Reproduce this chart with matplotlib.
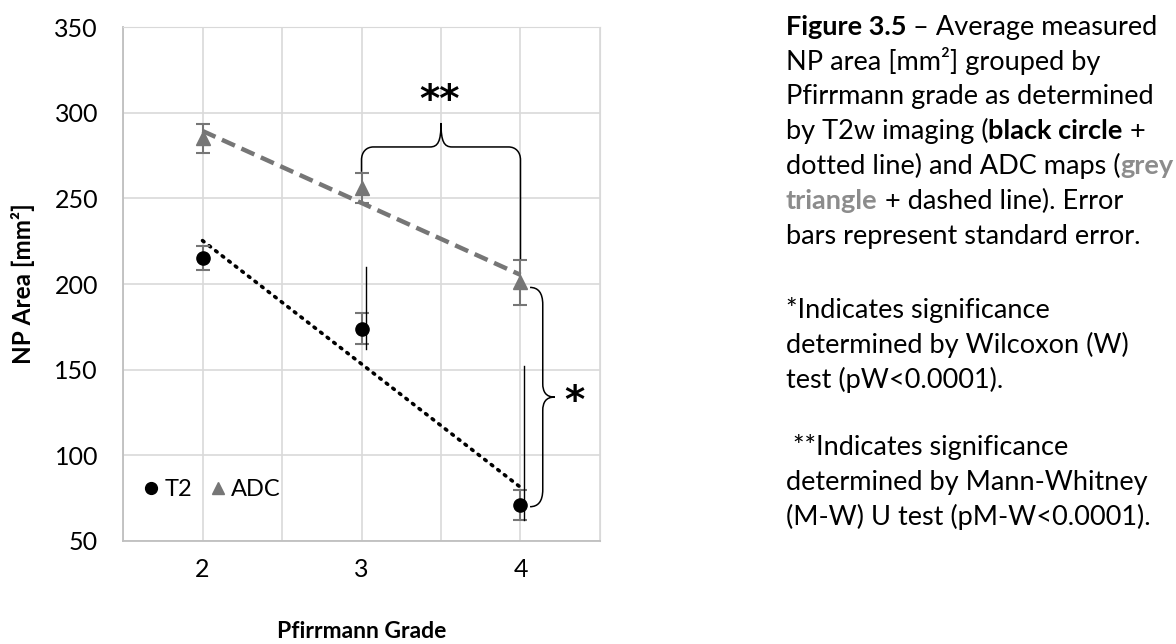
import numpy as np
import matplotlib.pyplot as plt
from matplotlib.path import Path
from matplotlib.patches import PathPatch
from matplotlib.lines import Line2D

plt.rcParams['font.family'] = ['Lato', 'DejaVu Sans']

# Pfirrmann grade vs mean NP area, with standard error
grades = [2, 3, 4]
t2_area = [215, 174, 71]
t2_err = [7, 9, 9]
adc_area = [285, 256, 201]
adc_err = [8.5, 9, 13]

GREY = '#767676'

fig = plt.figure(figsize=(11.76, 6.44), dpi=100)
ax = fig.add_axes([0.1046, 0.160, 0.4056, 0.798])

# grid every 0.5 on x (labels only on whole grades), every 50 on y
ax.set_xlim(1.5, 4.5)
ax.set_ylim(50, 350)
ax.set_xticks(grades)
ax.set_xticks([1.5, 2.5, 3.5, 4.5], minor=True)
ax.set_yticks(np.arange(50, 351, 50))
ax.grid(True, which='both', color='#d9d9d9', linewidth=1.2, zorder=0)
ax.tick_params(which='both', length=0, labelsize=18)
ax.tick_params(axis='x', pad=12)
ax.tick_params(axis='y', pad=18)
for s in ['top', 'right']:
    ax.spines[s].set_color('#d9d9d9')
for s in ['left', 'bottom']:
    ax.spines[s].set_color('#bfbfbf')
    ax.spines[s].set_linewidth(1.3)

# linear trendlines
xs = np.array([2, 4])
k, b = np.polyfit(grades, t2_area, 1)
ax.plot(xs, k * xs + b, color='black', linewidth=2.6,
        linestyle=(0, (0.5, 1.8)), dash_capstyle='round', zorder=3)
k, b = np.polyfit(grades, adc_area, 1)
ax.plot(xs, k * xs + b, color=GREY, linewidth=3.2,
        linestyle=(0, (3.2, 1.6)), zorder=3)

# points with error bars
ax.errorbar(grades, t2_area, yerr=t2_err, fmt='o', color='black', ms=9.5,
            ecolor=GREY, elinewidth=1.5, capsize=5, capthick=1.5, zorder=4)
ax.errorbar(grades, adc_area, yerr=adc_err, fmt='^', color=GREY, ms=10,
            ecolor=GREY, elinewidth=1.5, capsize=5, capthick=1.5, zorder=4)

# thin marker lines
ax.plot([3.03, 3.03], [162, 210], color='black', linewidth=1.0, zorder=4)
ax.plot([4.02, 4.02], [62, 152], color='black', linewidth=1.0, zorder=4)

# brace over grades 3-4 (ADC)
M, L, C = Path.MOVETO, Path.LINETO, Path.CURVE4
top = [
    ((3.0, 265.5), M), ((3.0, 272.4), L),
    ((3.0, 277), C), ((3.03, 280), C), ((3.075, 280), C),
    ((3.43, 280), L),
    ((3.48, 280), C), ((3.5, 283), C), ((3.5, 294), C),
    ((3.5, 283), C), ((3.52, 280), C), ((3.57, 280), C),
    ((3.925, 280), L),
    ((3.97, 280), C), ((4.0, 277), C), ((4.0, 272.4), C),
    ((4.0, 214.5), L),
]
verts, codes = zip(*top)
ax.add_patch(PathPatch(Path(verts, codes), fill=False, color='black',
                       linewidth=1.1, zorder=5))
ax.text(3.49, 307, '**', fontsize=28, ha='center', va='center',
        family='DejaVu Sans', fontweight='bold')

# brace between T2 and ADC at grade 4
side = [
    ((4.06, 198), M),
    ((4.11, 198), C), ((4.14, 195), C), ((4.14, 188), C),
    ((4.14, 142), L),
    ((4.14, 137), C), ((4.16, 134), C), ((4.215, 134), C),
    ((4.16, 134), C), ((4.14, 131), C), ((4.14, 126), C),
    ((4.14, 80), L),
    ((4.14, 73), C), ((4.11, 70), C), ((4.06, 70), C),
]
verts, codes = zip(*side)
ax.add_patch(PathPatch(Path(verts, codes), fill=False, color='black',
                       linewidth=1.1, zorder=5))
ax.text(4.34, 131, '*', fontsize=28, ha='center', va='center',
        family='DejaVu Sans', fontweight='bold')

handles = [
    Line2D([], [], marker='o', color='black', linestyle='none', ms=8.5),
    Line2D([], [], marker='^', color=GREY, linestyle='none', ms=8.5),
]
ax.legend(handles, ['T2', 'ADC'], loc='center left',
          bbox_to_anchor=(-0.01, 0.10), ncol=2, frameon=False, fontsize=17,
          handletextpad=0.05, columnspacing=0.6, handlelength=1.0)

ax.set_ylabel('NP Area [mm²]', fontsize=17.5, fontweight='bold', labelpad=14)
ax.set_xlabel('Pfirrmann Grade', fontsize=16.5, fontweight='bold', labelpad=29)

# caption on the right, one line at a time so bold/grey words can be mixed
W, H = 1176, 644
X0 = 786
FS = 19.5
renderer = fig.canvas.get_renderer()


def line(y, parts, x=X0):
    for txt, kw in parts:
        t = fig.text(x / W, 1 - y / H, txt, fontsize=FS, va='baseline', **kw)
        x += t.get_window_extent(renderer).width


bold = dict(fontweight='bold')
greyb = dict(fontweight='bold', color='#8c8c8c')
line(35, [('Figure 3.5', bold), (' – Average measured', {})])
line(70, [('NP area [mm²] grouped by', {})])
line(104, [('Pfirrmann grade as determined', {})])
line(139, [('by T2w imaging (', {}), ('black circle', bold), (' +', {})])
line(174, [('dotted line) and ADC maps (', {}), ('grey', greyb)])
line(209, [('triangle', greyb), (' + dashed line). Error', {})])
line(244, [('bars represent standard error.', {})])
line(318, [('*Indicates significance', {})])
line(353, [('determined by Wilcoxon (W)', {})])
line(388, [('test (pW<0.0001).', {})])
line(455, [(' **Indicates significance', {})])
line(490, [('determined by Mann-Whitney', {})])
line(525, [('(M-W) U test (pM-W<0.0001).', {})])

fig.savefig('out.png', dpi=100)
